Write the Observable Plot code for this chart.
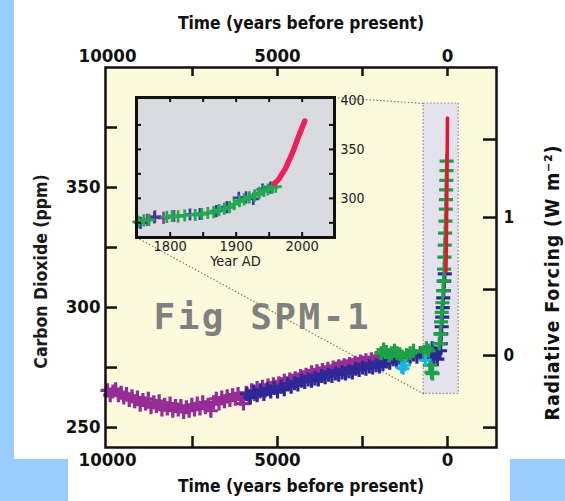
<!DOCTYPE html>
<html><head><meta charset="utf-8">
<script src="https://cdn.jsdelivr.net/npm/d3@7"></script>
<script src="https://cdn.jsdelivr.net/npm/@observablehq/plot@0.6"></script>
<style>
html,body{margin:0;padding:0;background:#99ccff;}
#wrap{position:relative;width:565px;height:501px;overflow:hidden;background:#99ccff;}
.paper{position:absolute;background:#ffffff;}
#main,#inset{position:absolute;}
</style></head><body>
<div id="wrap">
 <div class="paper" style="left:14px;top:0;width:551px;height:459px"></div>
 <div class="paper" style="left:68px;top:459px;width:442px;height:42px"></div>
 <div id="main" style="left:0;top:0"></div>
 <div id="inset" style="left:100px;top:85px"></div>
</div>
<script>
// ---------- data ----------
const xTitle = "Time (years before present)";
const yTitle = "Carbon Dioxide (ppm)";
const rfTitle = "Radiative Forcing (W m\u207B\u00B2)";
const watermark = "Fig SPM-1";
const insetTitle = "Year AD";

const xTickLabels = [10000, 5000, 0];
const xTickMarks = [7500, 5000, 2500, 0];
const yTickLabels = [250, 300, 350];
const yTickMarks = [250, 275, 300, 325, 350, 375];
const rfTickValues = [-0.5, 0, 0.5, 1, 1.5];
const rfTickPpm = [250, 280, 307.5, 337.5, 370];
const rfLabelValues = [0, 1];

const insetXLabels = [1800, 1900, 2000];
const insetXMarks = [1800, 1850, 1900, 1950, 2000];
const insetYLabels = [300, 350, 400];
const insetYMarks = [275, 300, 325, 350, 375];

const presentYear = 2005;
const zoomYears = [700, -330];   // highlighted period (years BP)
const zoomPpm = [264, 385];

// ice-core CO2, [years before present, ppm]
const purple = [[10000,265.5],[9920,263.5],[9840,265],[9760,266],[9680,263.5],[9600,264.5],[9520,262.5],[9440,264],[9360,261.5],[9280,263],[9200,261],[9120,262.5],[9040,259.5],[8960,261.5],[8880,260],[8800,262],[8720,258.5],[8640,260.5],[8560,259],[8480,261],[8400,257.5],[8320,259.5],[8240,258],[8160,260],[8080,257],[8000,259],[7920,257.5],[7840,259],[7760,256.5],[7680,258.5],[7600,257],[7520,259.5],[7440,257.5],[7360,260],[7280,258],[7200,260.5],[7120,258.5],[7040,259.5],[6960,257],[6880,260.5],[6800,262],[6720,260],[6640,262.5],[6560,261],[6480,263],[6400,261.5],[6320,263.5],[6240,262],[6160,264],[6080,262],[6000,260],[5920,264.5],[5840,263],[5760,265.5],[5680,264],[5600,266.5],[5520,265],[5440,267],[5360,265.5],[5280,267.5],[5200,266.5],[5120,268],[5040,267],[4960,268.5],[4880,268],[4800,269.5],[4720,268.5],[4640,270],[4560,269.5],[4480,270.5],[4400,270],[4320,271.5],[4240,271],[4160,272],[4080,271.5],[4000,273],[3920,272],[3840,273.5],[3760,272.5],[3680,274],[3600,273],[3520,274.5],[3440,273.5],[3360,275],[3280,274.5],[3200,275.5],[3120,275],[3040,276],[2960,275.5],[2880,276.5],[2800,276],[2720,277],[2640,276.5],[2560,277.5],[2480,277],[2400,278],[2320,277],[2240,278.5],[2160,277.5],[2080,279],[2000,278]];
const blue = [[5900,264],[5800,262.5],[5700,265],[5600,263.5],[5500,265.5],[5400,264],[5300,266],[5200,265],[5100,266.5],[5000,265],[4900,267],[4800,266],[4700,268],[4600,267],[4500,268.5],[4400,268],[4300,269.5],[4200,269],[4100,270],[4000,269.5],[3900,270.5],[3800,270],[3700,271.5],[3600,271],[3500,272],[3400,271.5],[3300,272.5],[3200,272],[3100,273],[3000,272.5],[2900,273.5],[2800,273],[2700,274.5],[2600,274],[2500,275],[2400,274.5],[2300,275.5],[2200,275],[2100,276],[2000,275.5],[1900,276.5],[1800,277.5],[1700,277],[1600,278.5],[1500,278],[1400,279],[1300,278.5],[1200,280],[1100,279.5],[1000,280.5],[900,279.5],[800,281],[700,280.5],[600,282],[500,280],[450,283],[400,279],[350,281],[300,278.5],[220,282],[200,285],[185,289],[170,292],[155,296],[140,300],[125,304],[110,307],[95,311],[80,314]];
const green = [[1950,281],[1880,282.5],[1800,281.5],[1720,280],[1650,281],[1560,282],[1480,281],[1400,280.5],[1330,279.5],[1200,280],[1100,281],[1000,282],[700,281.5],[620,283],[560,282],[520,276],[470,273],[440,272.5],[240,285],[210,289],[190,294],[170,298],[150,302],[130,307],[115,311],[100,316],[90,321],[80,326],[70,331],[60,336],[50,341],[45,345],[40,349],[35,353],[30,357],[25,361]];
const cyan = [[1350,275],[1300,274.5],[1250,276],[650,278]];

// inset, [year AD, ppm]
const insetGreen = [[1752,276],[1760,277.5],[1768,278],[1795,281],[1803,282],[1812,281.5],[1822,282.5],[1838,283],[1848,284],[1857,285],[1866,286],[1874,288],[1882,289.5],[1890,291],[1897,294],[1905,297],[1912,299],[1920,301],[1928,303],[1935,305.5],[1942,307.5],[1948,309],[1955,311],[1960,312]];
const insetBlue = [[1755,275],[1776,280.5],[1830,283.5],[1845,284],[1870,287],[1886,291],[1904,300.5],[1915,301],[1926,299.5],[1940,309],[1952,311]];
const insetPurple = [[1765,278],[1777,281.5],[1790,280],[1806,282]];
const insetRed = [[1958,315],[1965,320],[1970,325.5],[1975,331],[1980,338.5],[1985,346],[1990,355],[1995,364],[2000,372.5],[2004,379]];

// ---------- layout / style ----------
const W = 565, H = 501;
const mL = 105, mR = 69, mT = 67, mB = 54;
const fw = W - mL - mR, fh = H - mT - mB;
const xDomain = [10059, -1441];
const yDomain = [241.7, 400];
const BOLD = '"DejaVu Sans Condensed", "DejaVu Sans", sans-serif';
const INK = "#111";

const IW = 290, IH = 195, iL = 36, iR = 56, iT = 12, iB = 43;
const ifw = IW - iL - iR, ifh = IH - iT - iB;
const INSET_LEFT = 100, INSET_TOP = 85;

// ---------- inset ----------
const inset = Plot.plot({
  width: IW, height: IH, marginLeft: iL, marginRight: iR, marginTop: iT, marginBottom: iB,
  style: {background: "transparent", overflow: "visible"},
  x: {domain: [1749, 2049], axis: null},
  y: {domain: [260, 403], axis: null},
  marks: [
    Plot.frame({fill: "#dadbe0", stroke: null}),
    Plot.dot(insetPurple, {x: d => d[0], y: d => d[1], symbol: "plus", r: 4, stroke: "#8a3c9a", strokeWidth: 2.6}),
    Plot.dot(insetBlue, {x: d => d[0], y: d => d[1], symbol: "plus", r: 4, stroke: "#3a3aa0", strokeWidth: 2.6}),
    Plot.dot(insetGreen, {x: d => d[0], y: d => d[1], symbol: "plus", r: 4, stroke: "#22aa50", strokeWidth: 2.8}),
    Plot.line(insetRed, {x: d => d[0], y: d => d[1], stroke: "#f01e5a", strokeWidth: 5.5, curve: "monotone-x"}),
    Plot.tickX(insetXMarks, {x: d => d, insetBottom: ifh - 5, stroke: INK, strokeWidth: 2}),
    Plot.tickX(insetXMarks, {x: d => d, insetTop: ifh - 5, stroke: INK, strokeWidth: 2}),
    Plot.tickY(insetYMarks, {y: d => d, insetRight: ifw - 5, stroke: INK, strokeWidth: 2}),
    Plot.tickY(insetYMarks, {y: d => d, insetLeft: ifw - 5, stroke: INK, strokeWidth: 2}),
    Plot.frame({stroke: INK, strokeWidth: 3}),
    Plot.text(insetXLabels, {x: d => d, text: d => String(d), frameAnchor: "bottom", dy: 13, fontFamily: BOLD, fontSize: 14.5, fill: "#222"}),
    Plot.text(insetYLabels, {y: d => d, text: d => String(d), frameAnchor: "right", dx: 6, textAnchor: "start", fontFamily: BOLD, fontSize: 14, fill: "#222"}),
    Plot.text([insetTitle], {text: d => d, frameAnchor: "bottom", dy: 28, fontFamily: BOLD, fontSize: 14.5, fill: "#222"})
  ]
});
document.getElementById("inset").appendChild(inset);

// ---------- main ----------
const bp = (y) => presentYear - y;
const zoomBox = [{x1: zoomYears[0], x2: zoomYears[1], y1: zoomPpm[0], y2: zoomPpm[1]}];

function mainPlot(extra) {
  return Plot.plot({
    width: W, height: H, marginLeft: mL, marginRight: mR, marginTop: mT, marginBottom: mB,
    style: {background: "transparent", overflow: "visible"},
    x: {domain: xDomain, axis: null},
    y: {domain: yDomain, axis: null},
    marks: [
      Plot.frame({fill: "#fcf9dc", stroke: null}),
      Plot.rect(zoomBox, {x1: "x1", x2: "x2", y1: "y1", y2: "y2", fill: "#e4e2ec", stroke: "#8c8c96", strokeWidth: 1.2, strokeDasharray: "1.5,2"}),
      Plot.text([watermark], {text: d => d, frameAnchor: "top-left", dx: 48, dy: 261, lineAnchor: "bottom", textAnchor: "start", fontFamily: '"DejaVu Sans Mono", monospace', fontWeight: "bold", fontSize: 36, fill: "#808080", className: "wm"}),
      ...extra,
      Plot.dot(purple, {x: d => d[0], y: d => d[1], symbol: "plus", r: 4.6, stroke: "#962d96", strokeWidth: 3.2}),
      Plot.dot(blue, {x: d => d[0], y: d => d[1], symbol: "plus", r: 4.6, stroke: "#2d2896", strokeWidth: 3.2}),
      Plot.dot(green, {x: d => d[0], y: d => d[1], symbol: "plus", r: 4.6, stroke: "#1ea046", strokeWidth: 3.2}),
      Plot.dot(cyan, {x: d => d[0], y: d => d[1], symbol: "plus", r: 4, stroke: "#19b4e6", strokeWidth: 2.8}),
      Plot.line(insetRed, {x: d => bp(d[0]), y: d => d[1], stroke: "#e8142d", strokeWidth: 3.5}),
      Plot.tickX(xTickMarks, {x: d => d, insetBottom: fh - 9, stroke: INK, strokeWidth: 2.5}),
      Plot.tickX(xTickMarks, {x: d => d, insetTop: fh - 11, stroke: INK, strokeWidth: 2.5}),
      Plot.tickY(yTickMarks, {y: d => d, insetRight: fw - 12, stroke: INK, strokeWidth: 2.5}),
      Plot.tickY(rfTickPpm, {y: d => d, insetLeft: fw - 13, stroke: INK, strokeWidth: 2.5}),
      Plot.frame({stroke: INK, strokeWidth: 2.5}),
      Plot.text(xTickLabels, {x: d => d, text: d => String(d), frameAnchor: "top", dy: -19, fontFamily: BOLD, fontWeight: "bold", fontSize: 18.5, fill: INK}),
      Plot.text(xTickLabels, {x: d => d, text: d => String(d), frameAnchor: "bottom", dy: 18, fontFamily: BOLD, fontWeight: "bold", fontSize: 18.5, fill: INK}),
      Plot.text(yTickLabels, {y: d => d, text: d => String(d), frameAnchor: "left", dx: -5, textAnchor: "end", fontFamily: BOLD, fontWeight: "bold", fontSize: 18.5, fill: INK}),
      Plot.text(rfLabelValues, {y: d => rfTickPpm[rfTickValues.indexOf(d)], text: d => String(d), frameAnchor: "right", dx: 7, textAnchor: "start", fontFamily: BOLD, fontWeight: "bold", fontSize: 17, fill: INK}),
      Plot.text([xTitle], {text: d => d, frameAnchor: "top", dy: -51, fontFamily: BOLD, fontWeight: "bold", fontSize: 17.3, fill: INK}),
      Plot.text([xTitle], {text: d => d, frameAnchor: "bottom", dy: 44, fontFamily: BOLD, fontWeight: "bold", fontSize: 17.3, fill: INK}),
      Plot.text([yTitle], {text: d => d, frameAnchor: "left", dx: -64, dy: 14, rotate: -90, textAnchor: "middle", fontFamily: BOLD, fontWeight: "bold", fontSize: 17.5, fill: "#1a1a1a"}),
      Plot.text([rfTitle], {text: d => d, frameAnchor: "right", dx: 56, dy: 25, rotate: -90, textAnchor: "middle", fontFamily: BOLD, fontWeight: "bold", fontSize: 19.5, fill: INK})
    ]
  });
}

// connectors from the inset frame to the highlighted period, positioned through both plots' scales
const probe = mainPlot([]);
const mx = probe.scale("x"), my = probe.scale("y");
const ix = inset.scale("x"), iy = inset.scale("y");
const iLeft = INSET_LEFT + Math.min(...ix.range), iRight = INSET_LEFT + Math.max(...ix.range);
const iTop = INSET_TOP + Math.min(...iy.range), iBottom = INSET_TOP + Math.max(...iy.range);
const connectors = [
  {x1: mx.invert(iRight), y1: my.invert(iTop), x2: zoomYears[0], y2: zoomPpm[1]},
  {x1: mx.invert(iLeft), y1: my.invert(iBottom), x2: zoomYears[0], y2: zoomPpm[0]}
];
const main = mainPlot([
  Plot.link(connectors, {x1: "x1", y1: "y1", x2: "x2", y2: "y2", stroke: "#707070", strokeWidth: 1.1, strokeDasharray: "1.5,2"})
]);
// letter spacing for the watermark and the right-hand axis title
d3.select(main).selectAll("text").filter(function () { return this.textContent === watermark; }).attr("letter-spacing", 2.5);
d3.select(main).selectAll("text").filter(function () { return this.textContent === rfTitle; }).attr("letter-spacing", 0.8);
document.getElementById("main").appendChild(main);
</script>
</body></html>
